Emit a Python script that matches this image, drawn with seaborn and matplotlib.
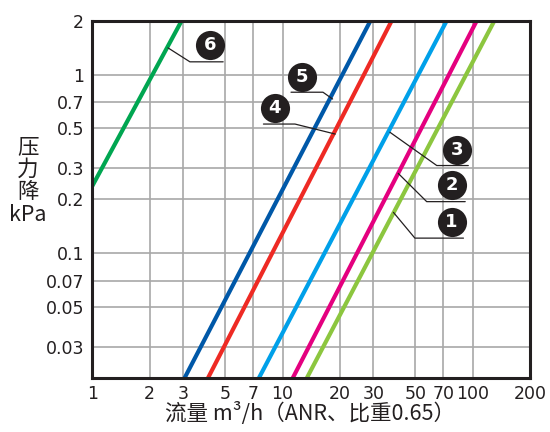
import numpy as np
import pandas as pd
import seaborn as sns
import matplotlib.pyplot as plt

# --- Data (each line given by its two end points) ---
series_names = ['1', '2', '3', '4', '5', '6']
flow_start = [13.4, 11.3, 7.5, 4.05, 3.05, 1.0]      # m3/h
flow_end = [130, 105, 73, 37.5, 29, 2.95]            # m3/h
drop_start = [0.02, 0.02, 0.02, 0.02, 0.02, 0.238]   # kPa
drop_end = [2, 2, 2, 2, 2, 2]                        # kPa
line_colors = ['#8cc63f', '#e4007f', '#00a0e9', '#ee2a24', '#0058a8', '#00a651']

x_ticks = [1, 2, 3, 5, 7, 10, 20, 30, 50, 70, 100, 200]
x_ticklabels = ['1', '2', '3', '5', '7', '10', '20', '30', '50', '70', '100', '200']
y_ticks = [0.03, 0.05, 0.07, 0.1, 0.2, 0.3, 0.5, 0.7, 1, 2]
y_ticklabels = ['0.03', '0.05', '0.07', '0.1', '0.2', '0.3', '0.5', '0.7', '1', '2']

# label badges: circle centre, leader polyline (axes fraction)
badge_pos = {
    '1': (0.821, 0.438), '2': (0.821, 0.541), '3': (0.833, 0.638),
    '4': (0.417, 0.755), '5': (0.478, 0.843), '6': (0.269, 0.932),
}
leaders = {
    '1': ([0.688, 0.737, 0.848], [0.464, 0.392, 0.392]),
    '2': ([0.699, 0.764, 0.852], [0.573, 0.494, 0.494]),
    '3': ([0.680, 0.787, 0.859], [0.688, 0.595, 0.595]),
    '4': ([0.391, 0.463, 0.555], [0.711, 0.711, 0.683]),
    '5': ([0.454, 0.527, 0.549], [0.800, 0.800, 0.781]),
    '6': ([0.173, 0.223, 0.299], [0.924, 0.885, 0.885]),
}

# long-form table for seaborn
rows = []
for name, x0, x1, y0, y1 in zip(series_names, flow_start, flow_end, drop_start, drop_end):
    rows.append({'line': name, 'flow': x0, 'drop': y0})
    rows.append({'line': name, 'flow': x1, 'drop': y1})
df = pd.DataFrame(rows)

sns.set_style('white')
plt.rcParams['font.family'] = ['Noto Sans CJK SC', 'DejaVu Sans']
ink = '#231f20'

fig = plt.figure(figsize=(5.5, 4.32), dpi=100)
ax = fig.add_axes([92.3 / 550, (432 - 378.3) / 432, 437.7 / 550, 357.6 / 432])

sns.lineplot(data=df, x='flow', y='drop', hue='line', hue_order=series_names,
             palette=line_colors, linewidth=3.0, legend=False, ax=ax,
             solid_capstyle='butt', zorder=3)

ax.set_xscale('log')
ax.set_yscale('log')
ax.set_xlim(1, 200)
ax.set_ylim(0.02, 2)

ax.set_xticks(x_ticks)
ax.set_xticklabels(x_ticklabels, family='DejaVu Sans')
ax.set_yticks(y_ticks)
ax.set_yticklabels(y_ticklabels, family='DejaVu Sans')
ax.minorticks_off()
ax.tick_params(axis='both', length=0, labelsize=12.5, colors=ink)
ax.tick_params(axis='x', pad=5)
ax.tick_params(axis='y', pad=6)

ax.grid(True, which='major', color='#a8a8a8', linewidth=1.2, zorder=1)
ax.set_axisbelow(True)
for sp in ax.spines.values():
    sp.set_color(ink)
    sp.set_linewidth(2.2)
    sp.set_zorder(5)

ax.set_xlabel('')
ax.set_ylabel('')

# leaders and numbered badges
for name in series_names:
    lx, ly = leaders[name]
    ax.plot(lx, ly, transform=ax.transAxes, color=ink, linewidth=0.9, zorder=4)
    bx, by = badge_pos[name]
    ax.scatter([bx], [by], s=440, color=ink, transform=ax.transAxes,
               zorder=6, clip_on=False, linewidths=0)
    ax.text(bx, by, name, transform=ax.transAxes, color='white',
            fontsize=13, fontweight='bold', ha='center', va='center', zorder=7,
            family='DejaVu Sans')

# axis titles
fig.text(28 / 550, 1 - 181 / 432, '压\n力\n降\nkPa', ha='center', va='center',
         fontsize=15.5, linespacing=1.02, color=ink)
fig.text(310 / 550, 1 - 414 / 432, '流量 m³/h（ANR、比重0.65）', ha='center', va='center',
         fontsize=15.5, color=ink)

fig.savefig('out.png', dpi=100)
